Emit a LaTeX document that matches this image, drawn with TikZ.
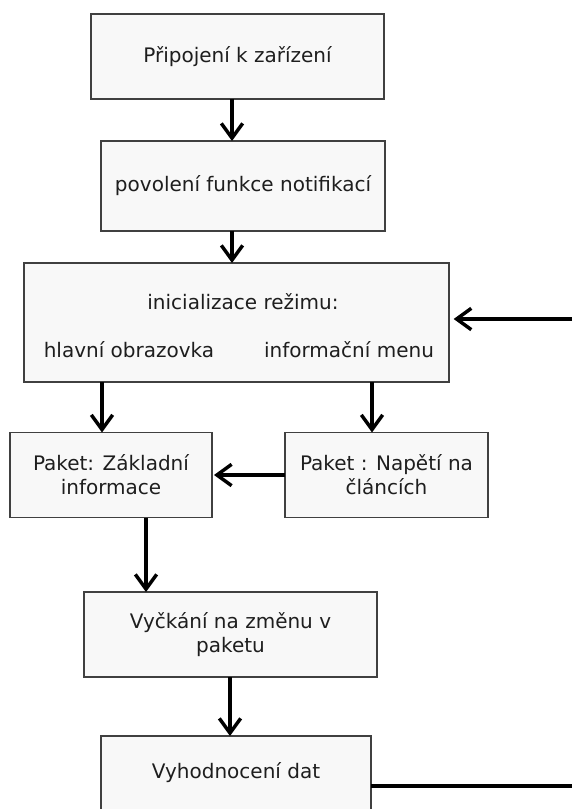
\documentclass[tikz,border=0pt]{standalone}
\usepackage{fontspec}
\setmainfont{DejaVu Sans}
\usetikzlibrary{arrows.meta}
\definecolor{boxfill}{HTML}{F8F8F8}
\definecolor{boxline}{HTML}{404040}
\definecolor{txt}{HTML}{1E1E1E}
\tikzset{
  box/.style={draw=boxline, fill=boxfill, line width=1.2pt, inner sep=0pt, outer sep=0pt,
    align=center, text=txt, font=\fontsize{15}{18}\selectfont},
  lbl/.style={inner sep=0pt, text=txt, font=\fontsize{15}{18}\selectfont},
  arr/.style={line width=2.8pt, -{Straight Barb[length=11pt,width=16pt,line width=2.6pt]}},
  plain/.style={line width=2.8pt}
}
\begin{document}
\begin{tikzpicture}[x=0.75pt,y=-0.75pt]
\useasboundingbox (0,0) rectangle (572,809);
\clip (0,0) rectangle (572,809);
\fill[white] (0,0) rectangle (572,809);
\node[box, minimum width=219.75pt, minimum height=63.75pt] (b1) at (237.5,56.5) {Připojení k zařízení};
\node[box, minimum width=213pt, minimum height=67.5pt] (b2) at (243,186) {povolení funkce notifikací};
\node[box, minimum width=318.75pt, minimum height=89.25pt] (b3) at (236.5,322.5) {};
\node[lbl] (t3a) at (243,302) {inicializace režimu:};
\node[lbl] (t3b) at (129,350) {hlavní obrazovka};
\node[lbl] (t3c) at (349,350) {informační menu};
\node[box, minimum width=151.5pt, minimum height=63.75pt] (b4) at (111,475) {Paket: Základní\\informace};
\node[box, minimum width=152.25pt, minimum height=63.75pt] (b5) at (386.5,475) {Paket : Napětí na\\článcích};
\node[box, minimum width=219.75pt, minimum height=63.75pt] (b6) at (230.5,634.5) {Vyčkání na změnu v\\paketu};
\node[box, minimum width=202.5pt, minimum height=55.5pt] (b7) at (236,773) {Vyhodnocení dat};

\coordinate (x1) at (232,0);
\coordinate (x2) at (102,0);
\coordinate (x3) at (372,0);
\coordinate (x4) at (146,0);
\coordinate (x5) at (230,0);
\coordinate (inR) at (572,319);
\coordinate (outR) at (572,786);

\draw[arr] (b1.south -| x1) -- (b2.north -| x1);
\draw[arr] (b2.south -| x1) -- (b3.north -| x1);
\draw[arr] (b3.south -| x2) -- (b4.north -| x2);
\draw[arr] (b3.south -| x3) -- (b5.north -| x3);
\draw[arr] (b5.west) -- ([xshift=1.5pt]b4.east);
\draw[arr] (b4.south -| x4) -- (b6.north -| x4);
\draw[arr] (b6.south -| x5) -- (b7.north -| x5);
\draw[arr] (inR) -- ([xshift=3.5pt]inR -| b3.east);
\draw[plain] (b7.east |- outR) -- (outR);
\end{tikzpicture}
\end{document}
